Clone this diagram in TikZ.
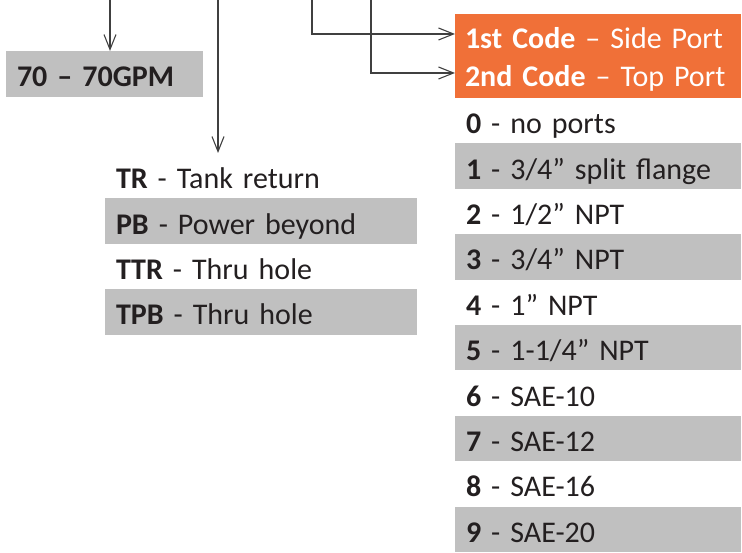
\documentclass[tikz,border=0pt]{standalone}
\usepackage{fontspec}
\setmainfont{Carlito}
\usepackage{xcolor}
\usepackage{tikz}
\usetikzlibrary{arrows.meta,positioning}
\definecolor{bandgray}{RGB}{192,192,192}
\definecolor{codeorange}{RGB}{240,112,56}
\definecolor{leadgray}{RGB}{64,64,64}
\definecolor{inkdark}{RGB}{35,31,32}

\begin{document}
\begin{tikzpicture}[x=1pt, y=-1pt, font=\fontsize{30}{36}\selectfont, node distance=0pt]
  \tikzset{item/.style={minimum height=45.4pt,inner xsep=11pt,inner ysep=0pt,outer sep=0pt,text width=#1,align=left,
                        text height=26pt,text depth=0pt,text=inkdark},
           band/.style={fill=bandgray},
           code/.style={fill=codeorange,text=white,inner xsep=10pt,inner ysep=0pt,outer sep=0pt,text width=266pt,align=left,
                        text depth=0pt},
           feed/.style={draw=leadgray,line width=1.1pt,-{Straight Barb[length=15pt,width=12pt]}}}
  \useasboundingbox (0,0) rectangle (742,553);

  % flow size
  \node[item=175pt,band,minimum height=46pt,anchor=north west] (gpm) at (6,51) {\textbf{70 – 70GPM}};

  % tank options
  \node[item=290pt,anchor=north west] (tr) at (105,153) {\textbf{TR} - Tank return};
  \node[item=290pt,band,below=0pt of tr]  (pb)  {\textbf{PB} - Power beyond};
  \node[item=290pt,below=0pt of pb]       (ttr) {\textbf{TTR} - Thru hole};
  \node[item=290pt,band,below=0pt of ttr] (tpb) {\textbf{TPB} - Thru hole};

  % port codes
  \node[code,minimum height=44pt,text height=26pt,anchor=north west] (code1) at (455,14) {\textbf{1st Code} – Side Port};
  \node[code,minimum height=40pt,text height=18pt,below=0pt of code1] (code2) {\textbf{2nd Code} – Top Port};
  \node[item=264pt,below=0pt of code2]   (p0) {\textbf{0} - no ports};
  \node[item=264pt,band,below=0pt of p0] (p1) {\textbf{1} - 3/4” split flange};
  \node[item=264pt,below=0pt of p1]      (p2) {\textbf{2} - 1/2” NPT};
  \node[item=264pt,band,below=0pt of p2] (p3) {\textbf{3} - 3/4” NPT};
  \node[item=264pt,below=0pt of p3]      (p4) {\textbf{4} - 1” NPT};
  \node[item=264pt,band,below=0pt of p4] (p5) {\textbf{5} - 1-1/4” NPT};
  \node[item=264pt,below=0pt of p5]      (p6) {\textbf{6} - SAE-10};
  \node[item=264pt,band,below=0pt of p6] (p7) {\textbf{7} - SAE-12};
  \node[item=264pt,below=0pt of p7]      (p8) {\textbf{8} - SAE-16};
  \node[item=264pt,band,below=0pt of p8] (p9) {\textbf{9} - SAE-20};

  % leads from the model code above
  \coordinate (s1) at (110,0);
  \coordinate (s2) at (218,0);
  \coordinate (s3) at (312,0);
  \coordinate (s4) at (371,0);
  \draw[feed] (s1) -- (s1 |- gpm.north);
  \draw[feed] (s2) -- (s2 |- tr.north);
  \draw[feed] (s3) |- ([yshift=2pt]code1.west);
  \draw[feed] (s4) |- ([yshift=5pt]code2.west);
\end{tikzpicture}
\end{document}
